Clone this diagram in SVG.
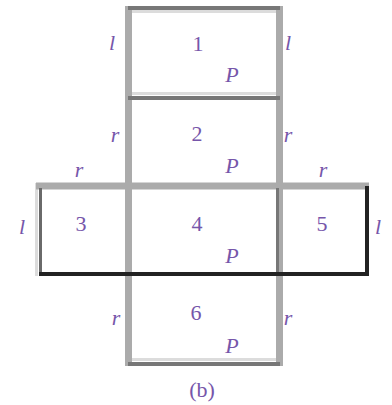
<svg xmlns="http://www.w3.org/2000/svg" width="392" height="405" viewBox="0 0 392 405">
<style>
.t{font-family:"Liberation Serif","Times New Roman",serif;font-size:22px;fill:#7656aa;text-anchor:middle}
.i{font-style:italic}
.lg{stroke:#ababab;stroke-width:7;fill:none}
.dg{stroke:#777;stroke-width:4;fill:none}
.pl{stroke:#dcdcdc;stroke-width:3;fill:none}
.bk{stroke:#222;stroke-width:4;fill:none}
</style>
<rect width="392" height="405" fill="#fff"/>
<g id="connectors">
  <!-- light shadows -->
  <line class="pl" x1="128" y1="11.5" x2="280" y2="11.5"/>
  <line class="pl" x1="128" y1="93.5" x2="280" y2="93.5"/>
  <line class="pl" x1="128" y1="359.5" x2="280" y2="359.5"/>
  <line class="pl" x1="36.5" y1="183" x2="36.5" y2="276"/>
  <!-- gray verticals -->
  <line class="lg" x1="128.5" y1="6" x2="128.5" y2="366"/>
  <line class="lg" x1="279.5" y1="6" x2="279.5" y2="366"/>
  <!-- row line -->
  <line class="lg" x1="36" y1="186" x2="369" y2="186"/>
  <!-- dark horizontals -->
  <line class="dg" x1="128" y1="8" x2="280" y2="8"/>
  <line class="dg" x1="128" y1="98" x2="280" y2="98"/>
  <line class="dg" x1="128" y1="364" x2="280" y2="364"/>
  <line stroke="#6a6a6a" stroke-width="3" x1="40.5" y1="188" x2="40.5" y2="276"/>
  <line stroke="#777" stroke-width="3" x1="277.5" y1="188" x2="277.5" y2="274"/>
  <!-- black edges -->
  <line class="bk" x1="39" y1="274" x2="369" y2="274"/>
  <line class="bk" x1="367" y1="186" x2="367" y2="276"/>
</g>
<g id="edge-labels">
  <text class="t i" x="112" y="50">l</text>
  <text class="t i" x="288" y="50">l</text>
  <text class="t i" x="115" y="142">r</text>
  <text class="t i" x="288" y="142">r</text>
  <text class="t i" x="79" y="177">r</text>
  <text class="t i" x="323" y="177">r</text>
  <text class="t i" x="22" y="234">l</text>
  <text class="t i" x="378" y="234">l</text>
  <text class="t i" x="116" y="325">r</text>
  <text class="t i" x="288" y="325">r</text>
</g>
<g id="face1">
  <text class="t" x="198" y="51">1</text>
  <text class="t i" x="232" y="82">P</text>
</g>
<g id="face2">
  <text class="t" x="197" y="141">2</text>
  <text class="t i" x="232" y="173">P</text>
</g>
<g id="face3">
  <text class="t" x="81" y="231">3</text>
</g>
<g id="face4">
  <text class="t" x="197" y="231">4</text>
  <text class="t i" x="232" y="263">P</text>
</g>
<g id="face5">
  <text class="t" x="322" y="231">5</text>
</g>
<g id="face6">
  <text class="t" x="196" y="320">6</text>
  <text class="t i" x="232" y="353">P</text>
</g>
<text class="t" x="202" y="397" font-size="20">(b)</text>
</svg>
